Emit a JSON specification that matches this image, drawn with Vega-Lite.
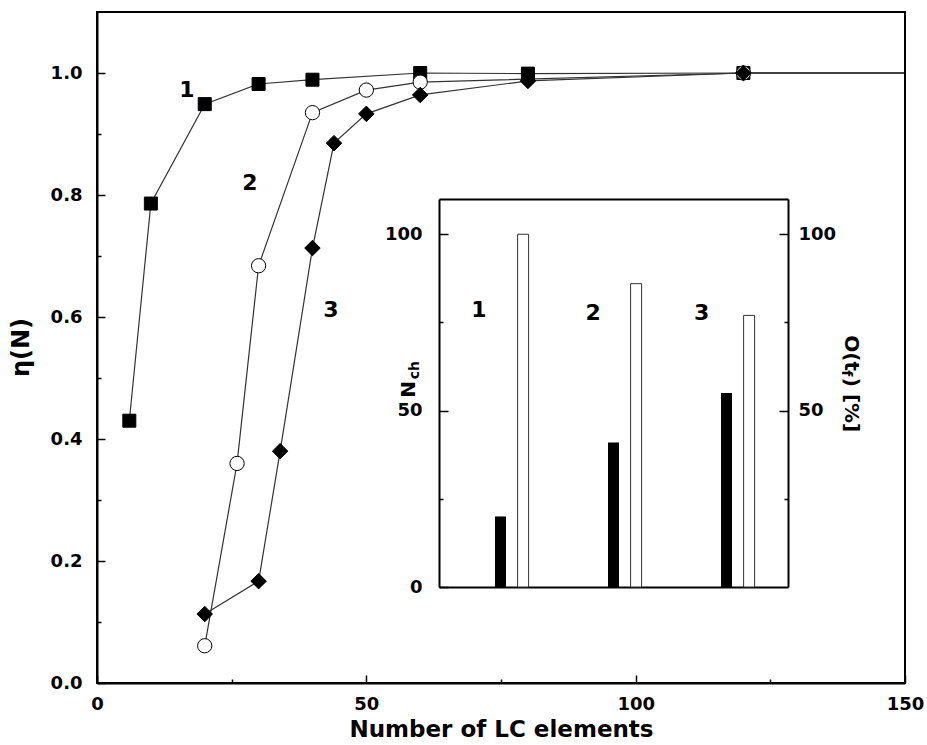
{
  "$schema": "https://vega.github.io/schema/vega-lite/v6.json",
  "width": 808,
  "height": 671,
  "autosize": {"type": "none"},
  "padding": {"left": 97, "top": 12, "right": 22, "bottom": 62},
  "background": "white",
  "config": {
    "view": {"stroke": "black", "strokeWidth": 2},
    "font": "DejaVu Sans",
    "axis": {
      "domainColor": "black", "domainWidth": 2,
      "tickColor": "black", "tickWidth": 1.5,
      "labelFont": "DejaVu Sans", "labelFontWeight": "bold", "labelFontSize": 18, "labelColor": "black",
      "titleFont": "DejaVu Sans", "titleFontWeight": "bold", "titleColor": "black",
      "grid": false, "labelOverlap": false, "labelFlush": false
    }
  },
  "datasets": {
    "curves": [
      {"series": "1", "n": 6, "eta": 0.43},
      {"series": "1", "n": 10, "eta": 0.786},
      {"series": "1", "n": 20, "eta": 0.949},
      {"series": "1", "n": 30, "eta": 0.982},
      {"series": "1", "n": 40, "eta": 0.989},
      {"series": "1", "n": 60, "eta": 1.0},
      {"series": "1", "n": 80, "eta": 0.999},
      {"series": "1", "n": 120, "eta": 1.0},
      {"series": "2", "n": 20, "eta": 0.061},
      {"series": "2", "n": 26, "eta": 0.36},
      {"series": "2", "n": 30, "eta": 0.684},
      {"series": "2", "n": 40, "eta": 0.935},
      {"series": "2", "n": 50, "eta": 0.972},
      {"series": "2", "n": 60, "eta": 0.985},
      {"series": "2", "n": 120, "eta": 1.0},
      {"series": "3", "n": 20, "eta": 0.113},
      {"series": "3", "n": 30, "eta": 0.167},
      {"series": "3", "n": 34, "eta": 0.38},
      {"series": "3", "n": 40, "eta": 0.713},
      {"series": "3", "n": 44, "eta": 0.885},
      {"series": "3", "n": 50, "eta": 0.933},
      {"series": "3", "n": 60, "eta": 0.964},
      {"series": "3", "n": 80, "eta": 0.987},
      {"series": "3", "n": 120, "eta": 1.0}
    ],
    "tail": [{"n": 120, "n2": 150, "eta": 1.0}],
    "curveLabels": [
      {"label": "1", "n": 16.7, "eta": 0.972},
      {"label": "2", "n": 28.4, "eta": 0.82},
      {"label": "3", "n": 43.4, "eta": 0.611}
    ],
    "bars": [
      {"group": "1", "kind": "Nch", "slot": 0.5, "value": 20},
      {"group": "1", "kind": "O", "slot": 0.7, "value": 100},
      {"group": "2", "kind": "Nch", "slot": 1.5, "value": 41},
      {"group": "2", "kind": "O", "slot": 1.7, "value": 86},
      {"group": "3", "kind": "Nch", "slot": 2.5, "value": 55},
      {"group": "3", "kind": "O", "slot": 2.7, "value": 77}
    ],
    "barLabels": [
      {"label": "1", "slot": 0.31, "value": 78.5},
      {"label": "2", "slot": 1.32, "value": 77.7},
      {"label": "3", "slot": 2.28, "value": 77.7}
    ],
    "leftTitle": [
      {"t": "N", "role": "main", "slot": -0.31, "value": 56},
      {"t": "ch", "role": "sub", "slot": -0.26, "value": 61.5}
    ],
    "rightTitle": [
      {"t": "O(t", "role": "main", "slot": 3.6, "value": 66.3},
      {"t": "f", "role": "sub", "slot": 3.56, "value": 60.6},
      {"t": ") [%]", "role": "main", "slot": 3.6, "value": 51.6}
    ]
  },
  "layer": [
    {
      "layer": [
        {
          "data": {"name": "curves"},
          "mark": {"type": "line", "color": "#333", "strokeWidth": 1.2},
          "encoding": {
            "x": {"field": "n", "type": "quantitative", "scale": {"domain": [0, 150], "nice": false},
              "axis": {
                "title": "Number of LC elements", "titleFontSize": 23, "titleY": 35,
                "values": [0, 25, 50, 75, 100, 125, 150],
                "labelExpr": "datum.value % 50 == 0 ? datum.label : ''",
                "tickSize": {"condition": {"test": "datum.value % 50 == 0", "value": -8}, "value": -4},
                "labelPadding": 20
              }},
            "y": {"field": "eta", "type": "quantitative", "scale": {"domain": [0, 1.1], "nice": false},
              "axis": {
                "title": "η(N)", "titleFontSize": 24, "titleX": -64, "titleY": 335,
                "values": [0, 0.1, 0.2, 0.3, 0.4, 0.5, 0.6, 0.7, 0.8, 0.9, 1.0],
                "labelExpr": "round(datum.value * 10) % 2 == 0 ? format(datum.value, '.1f') : ''",
                "tickSize": {"condition": {"test": "round(datum.value * 10) % 2 == 0", "value": -8}, "value": -4},
                "labelPadding": 23
              }},
            "detail": {"field": "series", "type": "nominal"}
          }
        },
        {
          "data": {"name": "tail"},
          "mark": {"type": "rule", "color": "black", "strokeWidth": 1.5},
          "encoding": {
            "x": {"field": "n", "type": "quantitative", "scale": {"domain": [0, 150], "nice": false},
              "axis": {
                "title": "Number of LC elements", "titleFontSize": 23, "titleY": 35,
                "values": [0, 25, 50, 75, 100, 125, 150],
                "labelExpr": "datum.value % 50 == 0 ? datum.label : ''",
                "tickSize": {"condition": {"test": "datum.value % 50 == 0", "value": -8}, "value": -4},
                "labelPadding": 20
              }},
            "x2": {"field": "n2"},
            "y": {"field": "eta", "type": "quantitative", "scale": {"domain": [0, 1.1], "nice": false},
              "axis": {
                "title": "η(N)", "titleFontSize": 24, "titleX": -64, "titleY": 335,
                "values": [0, 0.1, 0.2, 0.3, 0.4, 0.5, 0.6, 0.7, 0.8, 0.9, 1.0],
                "labelExpr": "round(datum.value * 10) % 2 == 0 ? format(datum.value, '.1f') : ''",
                "tickSize": {"condition": {"test": "round(datum.value * 10) % 2 == 0", "value": -8}, "value": -4},
                "labelPadding": 23
              }}
          }
        },
        {
          "data": {"name": "curves"},
          "mark": {"type": "point", "filled": true, "stroke": "black", "strokeWidth": 1, "opacity": 1},
          "encoding": {
            "x": {"field": "n", "type": "quantitative", "scale": {"domain": [0, 150], "nice": false},
              "axis": {
                "title": "Number of LC elements", "titleFontSize": 23, "titleY": 35,
                "values": [0, 25, 50, 75, 100, 125, 150],
                "labelExpr": "datum.value % 50 == 0 ? datum.label : ''",
                "tickSize": {"condition": {"test": "datum.value % 50 == 0", "value": -8}, "value": -4},
                "labelPadding": 20
              }},
            "y": {"field": "eta", "type": "quantitative", "scale": {"domain": [0, 1.1], "nice": false},
              "axis": {
                "title": "η(N)", "titleFontSize": 24, "titleX": -64, "titleY": 335,
                "values": [0, 0.1, 0.2, 0.3, 0.4, 0.5, 0.6, 0.7, 0.8, 0.9, 1.0],
                "labelExpr": "round(datum.value * 10) % 2 == 0 ? format(datum.value, '.1f') : ''",
                "tickSize": {"condition": {"test": "round(datum.value * 10) % 2 == 0", "value": -8}, "value": -4},
                "labelPadding": 23
              }},
            "shape": {"field": "series", "type": "nominal", "scale": {"domain": ["1", "2", "3"], "range": ["square", "circle", "diamond"]}, "legend": null},
            "fill": {"field": "series", "type": "nominal", "scale": {"domain": ["1", "2", "3"], "range": ["black", "white", "black"]}, "legend": null},
            "size": {"field": "series", "type": "nominal", "scale": {"domain": ["1", "2", "3"], "range": [169, 240, 256]}, "legend": null}
          }
        },
        {
          "data": {"name": "curveLabels"},
          "mark": {"type": "text", "fontSize": 22, "fontWeight": "bold", "font": "DejaVu Sans", "color": "black", "align": "center", "baseline": "middle"},
          "encoding": {
            "x": {"field": "n", "type": "quantitative", "scale": {"domain": [0, 150], "nice": false},
              "axis": {
                "title": "Number of LC elements", "titleFontSize": 23, "titleY": 35,
                "values": [0, 25, 50, 75, 100, 125, 150],
                "labelExpr": "datum.value % 50 == 0 ? datum.label : ''",
                "tickSize": {"condition": {"test": "datum.value % 50 == 0", "value": -8}, "value": -4},
                "labelPadding": 20
              }},
            "y": {"field": "eta", "type": "quantitative", "scale": {"domain": [0, 1.1], "nice": false},
              "axis": {
                "title": "η(N)", "titleFontSize": 24, "titleX": -64, "titleY": 335,
                "values": [0, 0.1, 0.2, 0.3, 0.4, 0.5, 0.6, 0.7, 0.8, 0.9, 1.0],
                "labelExpr": "round(datum.value * 10) % 2 == 0 ? format(datum.value, '.1f') : ''",
                "tickSize": {"condition": {"test": "round(datum.value * 10) % 2 == 0", "value": -8}, "value": -4},
                "labelPadding": 23
              }},
            "text": {"field": "label"}
          }
        }
      ]
    },
    {
      "layer": [
        {
          "data": {"name": "bars"},
          "transform": [{"filter": "datum.kind == 'Nch'"}],
          "mark": {"type": "bar", "size": 11, "color": "black"},
          "encoding": {
            "x": {"field": "slot", "type": "quantitative", "scale": {"domain": [0, 3], "range": [342, 691], "nice": false, "zero": false},
              "axis": {"orient": "bottom", "offset": -96, "labels": false, "ticks": false, "title": null}},
            "y": {"field": "value", "type": "quantitative", "scale": {"domain": [0, 110], "range": [575, 187], "nice": false},
              "axis": {
                "orient": "left", "offset": -342, "title": null,
                "values": [0, 25, 50, 75, 100],
                "labelExpr": "datum.value % 50 == 0 ? datum.label : ''",
                "tickSize": {"condition": {"test": "datum.value % 50 == 0", "value": -9}, "value": -4},
                "labelPadding": 26
              }}
          }
        },
        {
          "data": {"name": "bars"},
          "transform": [{"filter": "datum.kind == 'O'"}],
          "mark": {"type": "bar", "size": 11, "fill": "white", "stroke": "#333", "strokeWidth": 1},
          "encoding": {
            "x": {"field": "slot", "type": "quantitative", "scale": {"domain": [0, 3], "range": [342, 691], "nice": false, "zero": false},
              "axis": {"orient": "top", "offset": -187, "labels": false, "ticks": false, "title": null}},
            "y": {"field": "value", "type": "quantitative", "scale": {"domain": [0, 110], "range": [575, 187], "nice": false},
              "axis": {
                "orient": "right", "offset": -117, "title": null,
                "values": [25, 50, 75, 100],
                "labelExpr": "datum.value % 50 == 0 ? datum.label : ''",
                "tickSize": {"condition": {"test": "datum.value % 50 == 0", "value": -9}, "value": -4},
                "labelPadding": 19
              }}
          }
        },
        {
          "data": {"name": "barLabels"},
          "mark": {"type": "text", "fontSize": 22, "fontWeight": "bold", "font": "DejaVu Sans", "color": "black", "align": "center", "baseline": "middle"},
          "encoding": {
            "x": {"field": "slot", "type": "quantitative", "scale": {"domain": [0, 3], "range": [342, 691], "nice": false, "zero": false}, "axis": null},
            "y": {"field": "value", "type": "quantitative", "scale": {"domain": [0, 110], "range": [575, 187], "nice": false}, "axis": null},
            "text": {"field": "label"}
          }
        },
        {
          "data": {"name": "leftTitle"},
          "mark": {"type": "text", "fontWeight": "bold", "font": "DejaVu Sans", "color": "black", "align": "center", "baseline": "middle", "angle": 270},
          "encoding": {
            "x": {"field": "slot", "type": "quantitative", "scale": {"domain": [0, 3], "range": [342, 691], "nice": false, "zero": false}, "axis": null},
            "y": {"field": "value", "type": "quantitative", "scale": {"domain": [0, 110], "range": [575, 187], "nice": false}, "axis": null},
            "size": {"field": "role", "type": "ordinal", "scale": {"domain": ["main", "sub"], "range": [20, 14]}, "legend": null},
            "text": {"field": "t"}
          }
        },
        {
          "data": {"name": "rightTitle"},
          "mark": {"type": "text", "fontWeight": "bold", "font": "DejaVu Sans", "color": "black", "align": "center", "baseline": "middle", "angle": 90},
          "encoding": {
            "x": {"field": "slot", "type": "quantitative", "scale": {"domain": [0, 3], "range": [342, 691], "nice": false, "zero": false}, "axis": null},
            "y": {"field": "value", "type": "quantitative", "scale": {"domain": [0, 110], "range": [575, 187], "nice": false}, "axis": null},
            "size": {"field": "role", "type": "ordinal", "scale": {"domain": ["main", "sub"], "range": [20, 14]}, "legend": null},
            "text": {"field": "t"}
          }
        }
      ],
      "resolve": {"axis": {"x": "independent", "y": "independent"}}
    }
  ],
  "resolve": {
    "scale": {"x": "independent", "y": "independent", "size": "independent"},
    "axis": {"x": "independent", "y": "independent"}
  }
}
